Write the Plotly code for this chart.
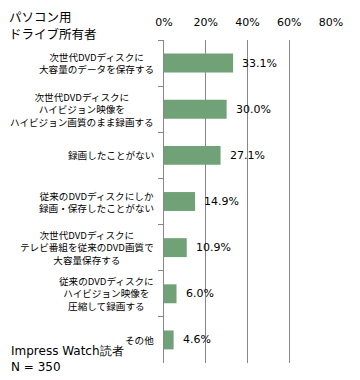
import plotly.graph_objects as go

categories = [
    "次世代DVDディスクに<br>大容量のデータを保存する",
    "次世代DVDディスクに<br>ハイビジョン映像を<br>ハイビジョン画質のまま録画する",
    "録画したことがない",
    "従来のDVDディスクにしか<br>録画・保存したことがない",
    "次世代DVDディスクに<br>テレビ番組を従来のDVD画質で<br>大容量保存する",
    "従来のDVDディスクに<br>ハイビジョン映像を<br>圧縮して録画する",
    "その他",
]
values = [33.1, 30.0, 27.1, 14.9, 10.9, 6.0, 4.6]
tick_values = [0, 20, 40, 60, 80]
tick_labels = ["0%", "20%", "40%", "60%", "80%"]
title_lines = ["パソコン用", "ドライブ所有者"]
source_text = "Impress Watch読者<br>N = 350"

BAR = "#71A177"
GRID = "#878787"
JP = "Noto Sans CJK JP"
LAT = "DejaVu Sans"

fig = go.Figure()
fig.add_trace(go.Bar(
    x=values, y=categories, orientation="h",
    marker=dict(color=BAR, line=dict(width=0)),
    width=0.41, hoverinfo="skip",
))

ann = []
for c, v in zip(categories, values):
    ann.append(dict(x=v, y=c, xref="x", yref="y", text=f"{v:.1f}%",
                    showarrow=False, xanchor="left", yanchor="middle", xshift=7,
                    font=dict(family=LAT, size=11, color="#000")))
    ann.append(dict(x=0, y=c, xref="paper", yref="y", text=c, align="center",
                    showarrow=False, xanchor="right", yanchor="middle", xshift=-8,
                    font=dict(family=JP, size=9.6, color="#000")))
for i, t in enumerate(title_lines):
    ann.append(dict(x=0, y=1, xref="paper", yref="paper", text=t, align="left",
                    showarrow=False, xanchor="left", yanchor="middle", borderpad=0,
                    xshift=-156, yshift=24 - 17 * i,
                    font=dict(family=JP, size=12.5, color="#000")))
ann.append(dict(x=0, y=0, xref="paper", yref="paper", text=source_text, align="left",
                showarrow=False, xanchor="left", yanchor="bottom", xshift=-155, yshift=-13,
                font=dict(family=LAT, size=12, color="#000")))

# page body has an 8px default margin: figure is sized to compensate
fig.update_layout(
    width=352, height=372,
    margin=dict(l=156, r=29, t=32, b=17, autoexpand=False),
    paper_bgcolor="white", plot_bgcolor="white",
    showlegend=False, annotations=ann,
    xaxis=dict(side="top", range=[0, 80], tickvals=tick_values, ticktext=tick_labels,
               showgrid=True, gridcolor=GRID, gridwidth=1, zeroline=False,
               showline=False, ticks="", ticklabelstandoff=11, automargin=False,
               tickfont=dict(family=LAT, size=11, color="#000"), fixedrange=True),
    yaxis=dict(autorange="reversed", showticklabels=False, showline=True,
               linecolor=GRID, linewidth=1, ticks="outside", ticklen=5,
               tickcolor=GRID, tickson="boundaries", showgrid=False,
               zeroline=False, fixedrange=True, automargin=False),
)

fig.write_html("out.html")
